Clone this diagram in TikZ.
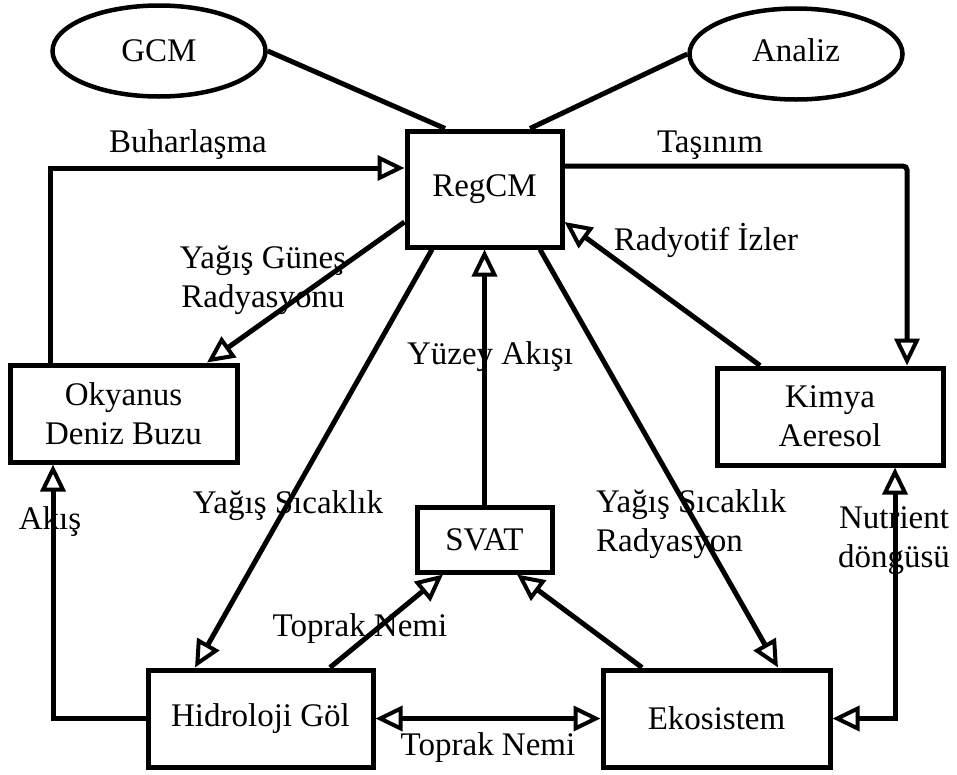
\documentclass[tikz,border=0pt]{standalone}
\usepackage{fontspec}
\setmainfont{Liberation Serif}
\usetikzlibrary{arrows.meta,shapes.geometric}
\begin{document}
\begin{tikzpicture}[x=1pt,y=-1pt,
  every node/.style={font=\fontsize{33}{39}\selectfont, inner sep=0pt},
  box/.style={draw, line width=5pt, rectangle, align=center},
  oval/.style={draw, line width=4.5pt, ellipse, minimum width=213pt, minimum height=91pt},
  lbl/.style={align=center},
  link/.style={line width=5pt},
  hd/.tip={Triangle[open,length=27pt,width=25pt,line width=4pt]},
  tip/.style={-hd},
  tips/.style={hd-hd}
]
\useasboundingbox (0,0) rectangle (957,774);

% ovals
\node[oval] (gcm) at (159,51) {GCM};
\node[oval] (analiz) at (796,54) {\raisebox{8pt}{Analiz}};

% boxes
\node[box, minimum width=155pt, minimum height=116pt] (regcm) at (484.5,189) {RegCM};
\node[box, minimum width=227pt, minimum height=97pt] (okyanus) at (123.5,413.5) {Okyanus\\Deniz Buzu};
\node[box, minimum width=226pt, minimum height=97pt] (kimya) at (830,416.5) {Kimya\\Aeresol};
\node[box, minimum width=135pt, minimum height=65pt] (svat) at (484.5,539.5) {SVAT};
\node[box, minimum width=225pt, minimum height=97pt] (hidro) at (260.5,718.5) {Hidroloji Göl};
\node[box, minimum width=227pt, minimum height=97pt] (eko) at (716.5,718.5) {Ekosistem};

% plain links to the driving data
\draw[link] (gcm.east) -- ([xshift=-39.5pt]regcm.north);
\draw[link] (analiz.west) -- ([xshift=45.5pt]regcm.north);

% fluxes
\draw[link,tip] ([xshift=-73.5pt]okyanus.north) |- ([yshift=21pt]regcm.west);
\draw[link,tip,rounded corners=4pt] ([yshift=23pt]regcm.east) -| ([xshift=77pt]kimya.north);
\draw[link,tip] ([yshift=-33pt]regcm.west) -- ([xshift=83.5pt]okyanus.north);
\draw[link,tip] ([xshift=-52.5pt]regcm.south) -- ([xshift=-65.5pt]hidro.north);
\draw[link,tip] (svat.north) -- (regcm.south);
\draw[link,tip] ([xshift=69.5pt]hidro.north) -- ([xshift=-41.5pt]svat.south);
\draw[link,tip] ([xshift=-74.5pt]eko.north) -- ([xshift=32.5pt]svat.south);
\draw[link,tip] ([xshift=55.5pt]regcm.south) -- ([xshift=61.5pt]eko.north);
\draw[link,tip] ([xshift=-70pt]kimya.north) -- ([yshift=-33pt]regcm.east);
\draw[link,tips] (hidro.east) -- (eko.west);
\draw[link,tip] (hidro.west) -| ([xshift=-70.5pt]okyanus.south);
\draw[link,tips] (eko.east) -| ([xshift=65pt]kimya.south);

% labels
\node[lbl] (lbuh) at (188,145) {Buharlaşma};
\node[lbl] (ltas) at (710,145) {Taşınım};
\node[lbl] (lgun) at (263,280) {Yağış Güneş\\Radyasyonu};
\node[lbl] (lrad) at (706,240) {Radyotif İzler};
\node[lbl] (lyuz) at (490,357) {Yüzey Akışı};
\node[lbl] (lsic) at (288,506) {Yağış Sıcaklık};
\node[lbl, align=left, anchor=west] (lsr) at (596,524) {Yağış Sıcaklık\\Radyasyon};
\node[lbl] (lakis) at (50,522) {Akış};
\node[lbl] (lnut) at (894,541) {Nutrient\\döngüsü};
\node[lbl] (ltop1) at (360,629) {Toprak Nemi};
\node[lbl] (ltop2) at (488,748) {Toprak Nemi};
\end{tikzpicture}
\end{document}
